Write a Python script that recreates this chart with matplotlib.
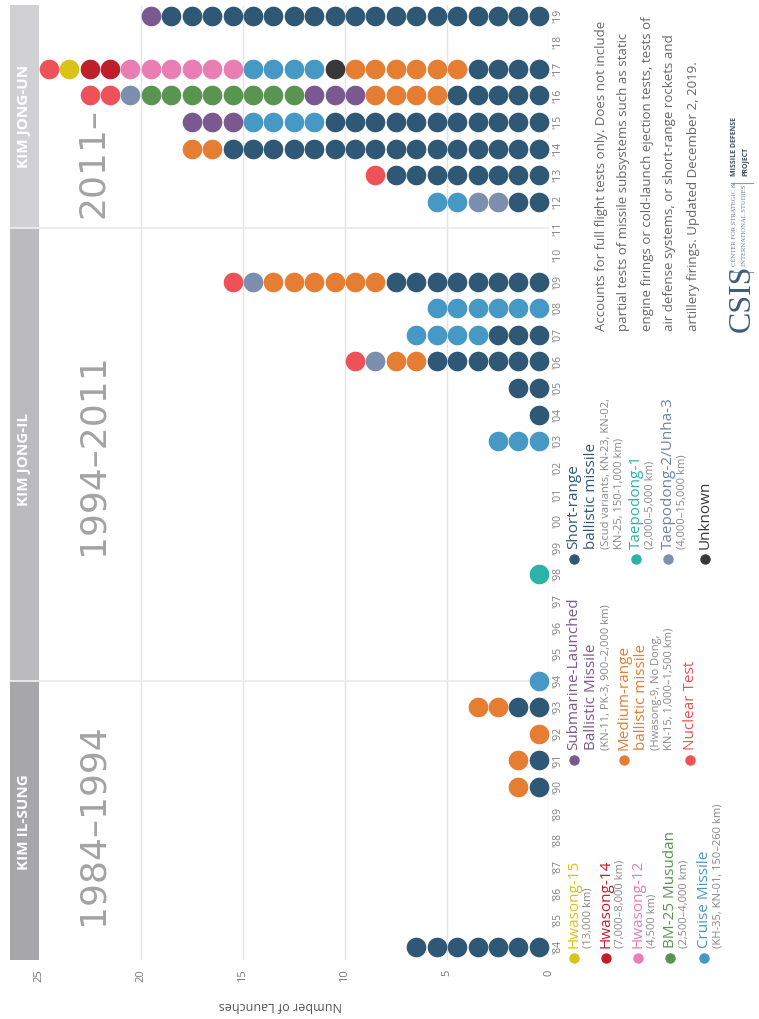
import matplotlib
matplotlib.use("Agg")
import matplotlib.pyplot as plt
from matplotlib.patches import Rectangle
from matplotlib.lines import Line2D

plt.rcParams['font.family'] = ['Open Sans', 'DejaVu Sans']

W, H = 759, 1019

# missile types: colour of the dot
colors = {
    'srbm': '#2f5876', 'mrbm': '#e57d32', 'cruise': '#4699c4', 'td1': '#2bb3a7',
    'td2': '#7c8fae', 'nuclear': '#ee5158', 'hs15': '#d8c318', 'hs14': '#bf1e2b',
    'hs12': '#ea7db3', 'bm25': '#5a9451', 'slbm': '#7c5891', 'unknown': '#383838',
}

years = list(range(1984, 2020))
year_labels = ["'" + str(y)[2:] for y in years]

# launches per year, from zero outwards: (type, count)
launches = {
    1984: [('srbm', 7)],
    1990: [('srbm', 1), ('mrbm', 1)],
    1991: [('srbm', 1), ('mrbm', 1)],
    1992: [('mrbm', 1)],
    1993: [('srbm', 2), ('mrbm', 2)],
    1994: [('cruise', 1)],
    1998: [('td1', 1)],
    2003: [('cruise', 3)],
    2004: [('srbm', 1)],
    2005: [('srbm', 2)],
    2006: [('srbm', 6), ('mrbm', 2), ('td2', 1), ('nuclear', 1)],
    2007: [('srbm', 3), ('cruise', 4)],
    2008: [('cruise', 6)],
    2009: [('srbm', 8), ('mrbm', 6), ('td2', 1), ('nuclear', 1)],
    2012: [('srbm', 2), ('td2', 2), ('cruise', 2)],
    2013: [('srbm', 8), ('nuclear', 1)],
    2014: [('srbm', 16), ('mrbm', 2)],
    2015: [('srbm', 11), ('cruise', 4), ('slbm', 3)],
    2016: [('srbm', 5), ('mrbm', 4), ('slbm', 3), ('bm25', 8), ('td2', 1), ('nuclear', 2)],
    2017: [('srbm', 4), ('mrbm', 6), ('unknown', 1), ('cruise', 4), ('hs12', 6),
           ('hs14', 2), ('hs15', 1), ('nuclear', 1)],
    2019: [('srbm', 19), ('slbm', 1)],
}

# leaders: name, first year, last year, box colour, label centre, period text
eras = [
    ('KIM IL-SUNG', 1983.5, 1994, '#a7a7a9', 1988.7, '1984\u20131994'),
    ('KIM JONG-IL', 1994, 2011, '#bbbbbd', 2002.3, '1994\u20132011'),
    ('KIM JONG-UN', 2011, 2019.4, '#d1d1d3', 2015.2, '2011\u2013'),
]


def fx(px):
    return px / W


def fy(py):
    return 1 - py / H


fig = plt.figure(figsize=(W / 100, H / 100), dpi=100)
ax = fig.add_axes([fx(10), fy(960), 539 / W, 955 / H])
ax.set_xlim(26.4, 0)
ax.set_ylim(1983.5, 2019.4)
for s in ax.spines.values():
    s.set_visible(False)

grid_c = '#e4e4e4'
ax.vlines([0, 5, 10, 15, 20], 1983.5, 2019.4, color=grid_c, lw=1, zorder=0)

# leader boxes
for name, y0, y1, c, yc, period in eras:
    ax.add_patch(Rectangle((25, y0), 1.4, y1 - y0, color=c, lw=0, zorder=1))
    ax.text(25.7, yc, name, rotation=90, ha='center', va='center', color='white',
            fontsize=11, fontweight='bold', zorder=3)
for y in [1994, 2011]:
    ax.plot([26.4, 0], [y, y], color='#ececec', lw=1.3, zorder=2)

ax.text(22.35, 1988.6, eras[0][5], rotation=90, ha='center', va='center',
        color='#a3a3a3', fontsize=26, family='DejaVu Sans')
ax.text(22.35, 2002.5, eras[1][5], rotation=90, ha='center', va='center',
        color='#a3a3a3', fontsize=26, family='DejaVu Sans')
ax.text(22.35, 2011.4, eras[2][5], rotation=90, rotation_mode='anchor', ha='left',
        va='center', color='#a3a3a3', fontsize=26, family='DejaVu Sans')

# dots
for yr, segs in launches.items():
    i = 0
    for kind, n in segs:
        xs = [i + k + 0.5 for k in range(n)]
        ax.scatter(xs, [yr] * n, s=200, color=colors[kind], linewidths=0, zorder=4)
        i += n

ax.set_xticks([0, 5, 10, 15, 20, 25])
ax.set_xticklabels(['0', '5', '10', '15', '20', '25'], rotation=90, fontsize=8,
                   color='#777777')
ax.set_yticks(years)
ax.set_yticklabels(year_labels, rotation=90, fontsize=7.5, color='#808080', va='center')
ax.yaxis.tick_right()
ax.tick_params(axis='both', length=0)
ax.tick_params(axis='x', pad=7)
ax.tick_params(axis='y', pad=2.5)

fig.text(fx(280), fy(1005), 'Number of Launches', rotation=180, ha='center',
         va='center', fontsize=9, color='#555555')


def vtext(px, py, s, size=11, color='#777777', **kw):
    fig.text(fx(px), fy(py), s, rotation=90, rotation_mode='anchor', ha='left',
             va='center', fontsize=size, color=color, **kw)


def dot(px, py, c):
    fig.add_artist(Line2D([fx(px)], [fy(py)], marker='o', ms=6.5, color=c, lw=0,
                          transform=fig.transFigure))


# legend
legend = [
    # x, y, type, main lines, sub lines
    (574, 958, 'hs15', ['Hwasong-15'], ['(13,000 km)']),
    (606, 958, 'hs14', ['Hwasong-14'], ['(7,000\u20138,000 km)']),
    (638, 958, 'hs12', ['Hwasong-12'], ['(4,500 km)']),
    (670, 958, 'bm25', ['BM-25 Musudan'], ['(2,500\u20134,000 km)']),
    (704, 958, 'cruise', ['Cruise Missile'], ['(KH-35, KN-01, 150\u2013260 km)']),
    (574, 760, 'slbm', ['Submarine-Launched', 'Ballistic Missile'],
     ['(KN-11, PK-3, 900\u20132,000 km)']),
    (624, 760, 'mrbm', ['Medium-range', 'ballistic missile'],
     ['(Hwasong-9, No Dong,', 'KN-15, 1,000\u20131,500 km)']),
    (690, 760, 'nuclear', ['Nuclear Test'], []),
    (574, 559, 'srbm', ['Short-range', 'ballistic missile'],
     ['(Scud variants, KN-23, KN-02,', 'KN-25, 150-1,000 km)']),
    (636, 559, 'td1', ['Taepodong-1'], ['(2,000\u20135,000 km)']),
    (668, 559, 'td2', ['Taepodong-2/Unha-3'], ['(4,000\u201315,000 km)']),
    (705, 559, 'unknown', ['Unknown'], []),
]
for px, py, kind, mains, subs in legend:
    c = colors[kind]
    if kind in ('td2',):
        c_txt = '#6f82a3'
    else:
        c_txt = c
    dot(px, py, colors[kind])
    x = px
    for k, line in enumerate(mains):
        vtext(x, py - 10, line, size=11, color=c_txt)
        x += 17.5
    x -= 3
    for line in subs:
        vtext(x, py - 10, line, size=8, color='#888888')
        x += 13

note = ['Accounts for full flight tests only. Does not include',
        'partial tests of missile subsystems such as static',
        'engine firings or cold-launch ejection tests, tests of',
        'air defense systems, or short-range rockets and',
        'artillery firings. Updated December 2, 2019.']
for k, line in enumerate(note):
    vtext(601 + k * 23, 331, line, size=9.5, color='#666666')

# CSIS logo
vtext(742, 332, 'CSIS', size=23, color='#3d5c7c', family='Liberation Serif')
fig.add_artist(Line2D([fx(731), fx(753)], [fy(272), fy(272)], color='#8a9aaa', lw=0.8))
vtext(735, 266, 'CENTER FOR STRATEGIC &', size=4.8, color='#6d7f92', family='Liberation Serif')
vtext(745, 266, 'INTERNATIONAL STUDIES', size=4.8, color='#6d7f92', family='Liberation Serif')
fig.add_artist(Line2D([fx(731), fx(753)], [fy(183), fy(183)], color='#8a9aaa', lw=0.8))
vtext(735, 176, 'MISSILE DEFENSE', size=5, color='#3d4f63', fontweight='bold')
vtext(745, 176, 'PROJECT', size=5, color='#3d4f63', fontweight='bold')

fig.savefig('out.png', dpi=100, facecolor='white')
